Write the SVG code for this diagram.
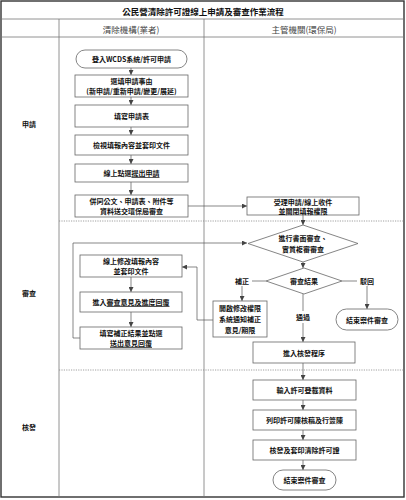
<svg xmlns="http://www.w3.org/2000/svg" width="406" height="500" viewBox="0 0 406 500">
<defs>
<marker id="ah" markerWidth="5" markerHeight="5" refX="5" refY="2.5" orient="auto" markerUnits="userSpaceOnUse">
<path d="M0,0 L5,2.5 L0,5 z" fill="#444"/>
</marker>
<style>
.t{font-family:"Noto Sans CJK TC","Noto Sans CJK SC",sans-serif;font-size:7px;font-weight:700;fill:#111;text-anchor:middle;dominant-baseline:central}
.h{font-family:"Noto Sans CJK TC","Noto Sans CJK SC",sans-serif;font-size:8.5px;fill:#444;text-anchor:middle;dominant-baseline:central}
.ttl{font-family:"Noto Sans CJK TC","Noto Sans CJK SC",sans-serif;font-size:8.5px;font-weight:700;fill:#111;text-anchor:middle;dominant-baseline:central}
.b{fill:#fff;stroke:#666;stroke-width:0.8}
.grid{stroke:#777;stroke-width:0.8;fill:none}
.dot{stroke:#888;stroke-width:0.8;stroke-dasharray:1.2 1.2;fill:none}
.c{stroke:#555;stroke-width:0.7;fill:none}
.ca{stroke:#555;stroke-width:0.7;fill:none;marker-end:url(#ah)}
.u{text-decoration:underline}
</style>
</defs>
<rect x="0" y="0" width="406" height="500" fill="#fff"/>
<g id="table">
<rect x="1" y="1" width="403" height="496" fill="none" stroke="#333" stroke-width="1.4"/>
<line class="grid" x1="1" y1="19" x2="404" y2="19"/>
<line class="grid" x1="1" y1="37" x2="404" y2="37"/>
<line class="grid" x1="59" y1="19" x2="59" y2="497"/>
<line class="grid" x1="204" y1="19" x2="204" y2="497"/>
<line class="dot" x1="59" y1="221" x2="404" y2="221"/>
<line class="dot" x1="59" y1="370" x2="404" y2="370"/>
<text class="ttl" x="203" y="11">公民營清除許可證線上申請及審查作業流程</text>
<text class="h" x="131" y="28.5">清除機構(業者)</text>
<text class="h" x="304" y="28.5">主管機關(環保局)</text>
<text class="t" x="29" y="124">申請</text>
<text class="t" x="29" y="293">審查</text>
<text class="t" x="29" y="427">核發</text>
</g>
<g id="connectors">
<line class="ca" x1="131" y1="68" x2="131" y2="75"/>
<line class="ca" x1="131" y1="97" x2="131" y2="105"/>
<line class="ca" x1="131" y1="127" x2="131" y2="135"/>
<line class="ca" x1="131" y1="155" x2="131" y2="164"/>
<line class="ca" x1="131" y1="182" x2="131" y2="195"/>
<line class="ca" x1="188" y1="206" x2="247" y2="206"/>
<line class="ca" x1="303" y1="215" x2="303" y2="225"/>
<line class="ca" x1="303" y1="262" x2="303" y2="268"/>
<line class="c" x1="266" y1="281" x2="252" y2="281"/>
<line class="ca" x1="242" y1="286" x2="242" y2="301"/>
<line class="c" x1="342" y1="281" x2="357" y2="281"/>
<line class="ca" x1="367" y1="286" x2="367" y2="309"/>
<line class="c" x1="303" y1="294" x2="303" y2="311"/>
<line class="ca" x1="303" y1="323" x2="303" y2="342"/>
<polyline class="ca" points="213,320 197,320 197,267 182,267"/>
<line class="ca" x1="131" y1="277" x2="131" y2="292"/>
<line class="ca" x1="131" y1="312" x2="131" y2="327"/>
<polyline class="ca" points="80,338 73,338 73,243 247,243"/>
<line class="ca" x1="303" y1="363" x2="303" y2="380"/>
<line class="ca" x1="303" y1="400" x2="303" y2="410"/>
<line class="ca" x1="303" y1="430" x2="303" y2="440"/>
<line class="ca" x1="303" y1="460" x2="303" y2="470"/>
</g>
<g id="n1"><rect class="b" x="76" y="50" width="111" height="18" rx="9"/><text class="t" x="131.5" y="59">登入WCDS系統/許可申請</text></g>
<g id="n2"><rect class="b" x="75" y="75" width="113" height="22"/><text class="t" x="131.5" y="81">選填申請事由</text><text class="t" x="131.5" y="91">(新申請/重新申請/變更/展延)</text></g>
<g id="n3"><rect class="b" x="75" y="105" width="113" height="22"/><text class="t" x="131.5" y="116">填寫申請表</text></g>
<g id="n4"><rect class="b" x="75" y="135" width="113" height="20"/><text class="t" x="131.5" y="145">檢視填報內容並套印文件</text></g>
<g id="n5"><rect class="b" x="75" y="164" width="113" height="18"/><text class="t" x="131.5" y="173">線上點選<tspan class="u">提出申請</tspan></text></g>
<g id="n6"><rect class="b" x="75" y="195" width="113" height="22"/><text class="t" x="131.5" y="201">併同公文、申請表、附件等</text><text class="t" x="131.5" y="211">資料送交環保局審查</text></g>
<g id="n7"><rect class="b" x="247" y="197" width="112" height="18"/><text class="t" x="303" y="201.5">受理申請/線上收件</text><text class="t" x="303" y="210.5">並關閉填報權限</text></g>
<g id="n8"><polygon class="b" points="303,225 358,243.5 303,262 248,243.5"/><text class="t" x="303" y="238">進行書面審查、</text><text class="t" x="303" y="249">實質複審審查</text></g>
<g id="n9"><polygon class="b" points="304,268 342,281 304,294 266,281"/><text class="t" x="304" y="281">審查結果</text></g>
<g id="l1"><text class="t" x="242" y="281">補正</text></g>
<g id="l2"><text class="t" x="367" y="281">駁回</text></g>
<g id="l3"><text class="t" x="303" y="317">通過</text></g>
<g id="n10"><rect class="b" x="213" y="301" width="54" height="36"/><text class="t" x="240" y="308">開啟修改權限</text><text class="t" x="240" y="319">系統通知補正</text><text class="t" x="240" y="330">意見/期限</text></g>
<g id="n11"><rect class="b" x="336" y="309" width="62" height="21" rx="10.5"/><text class="t" x="367" y="319.5">結束案件審查</text></g>
<g id="n12"><rect class="b" x="80" y="255" width="102" height="22"/><text class="t" x="131" y="261">線上修改填報內容</text><text class="t" x="131" y="271">並套印文件</text></g>
<g id="n13"><rect class="b" x="80" y="292" width="102" height="20"/><text class="t" x="131" y="302">進入<tspan class="u">審查意見及進度回覆</tspan></text></g>
<g id="n14"><rect class="b" x="80" y="327" width="102" height="22"/><text class="t" x="131" y="333">填寫補正結果並點選</text><text class="t u" x="131" y="343">送出意見回覆</text></g>
<g id="n15"><rect class="b" x="253" y="342" width="102" height="21"/><text class="t" x="304" y="352.5">進入核發程序</text></g>
<g id="n16"><rect class="b" x="253" y="380" width="103" height="20"/><text class="t" x="304.5" y="390">輸入許可登載資料</text></g>
<g id="n17"><rect class="b" x="253" y="410" width="103" height="20"/><text class="t" x="304.5" y="420">列印許可陳核稿及行簽陳</text></g>
<g id="n18"><rect class="b" x="253" y="440" width="103" height="20"/><text class="t" x="304.5" y="450">核發及套印清除許可證</text></g>
<g id="n19"><rect class="b" x="273" y="470" width="63" height="20" rx="10"/><text class="t" x="304.5" y="480">結束案件審查</text></g>
</svg>
